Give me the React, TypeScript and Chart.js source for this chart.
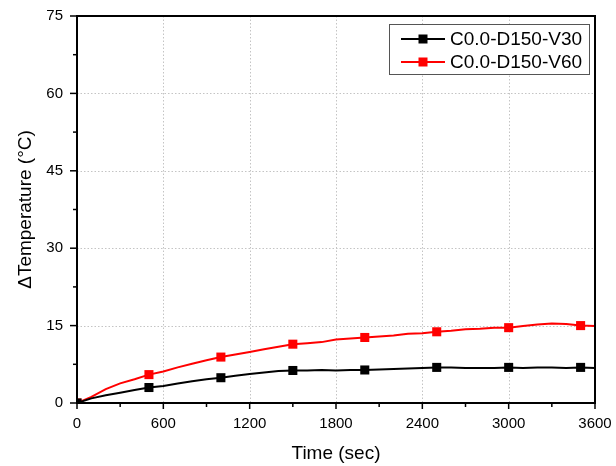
import React, { useEffect, useRef } from "react";
import { Chart, registerables } from "chart.js";

Chart.register(...registerables);

const times = [
  0, 100, 200, 300, 400, 500, 600, 700, 800, 900, 1000, 1100, 1200, 1300, 1400, 1500, 1600, 1700, 1800,
  1900, 2000, 2100, 2200, 2300, 2400, 2500, 2600, 2700, 2800, 2900, 3000, 3100, 3200, 3300, 3400, 3500, 3600,
];

const seriesV30 = [
  0, 0.9, 1.5, 2.0, 2.5, 3.0, 3.3, 3.8, 4.2, 4.6, 4.9, 5.3, 5.6, 5.9, 6.2, 6.3, 6.3, 6.4, 6.3,
  6.4, 6.4, 6.5, 6.6, 6.7, 6.8, 6.9, 6.9, 6.8, 6.8, 6.8, 6.9, 6.8, 6.9, 6.9, 6.8, 6.9, 6.8,
];

const seriesV60 = [
  0, 1.2, 2.7, 3.8, 4.6, 5.5, 6.1, 6.9, 7.6, 8.3, 8.9, 9.4, 9.9, 10.4, 10.9, 11.4, 11.6, 11.8, 12.3,
  12.5, 12.7, 12.9, 13.1, 13.4, 13.5, 13.8, 14.0, 14.3, 14.4, 14.6, 14.6, 14.9, 15.2, 15.4, 15.3, 15.0, 14.9,
];

const seriesLabels = ["C0.0-D150-V30", "C0.0-D150-V60"];
const seriesColors = ["#000000", "#ff0000"];
const markerTimes = [0, 500, 1000, 1500, 2000, 2500, 3000, 3500];

const xTitle = "Time (sec)";
const yTitle = "\u0394Temperature (\u00B0C)";
const xRange = [0, 3600];
const xStep = 600;
const yRange = [0, 75];
const yStep = 15;

const FONT = "'Liberation Sans', Arial, sans-serif";

const framePlugin = {
  id: "originFrame",
  beforeDatasetsDraw(chart: any) {
    const { ctx, chartArea: a, scales } = chart;
    const x = scales.x;
    const y = scales.y;
    ctx.save();
    ctx.strokeStyle = "#c4c4c4";
    ctx.lineWidth = 1;
    ctx.setLineDash([1.5, 2]);
    x.ticks.forEach((t: any) => {
      const px = Math.round(x.getPixelForValue(t.value)) + 0.5;
      ctx.beginPath();
      ctx.moveTo(px, a.top);
      ctx.lineTo(px, a.bottom);
      ctx.stroke();
    });
    y.ticks.forEach((t: any) => {
      const py = Math.round(y.getPixelForValue(t.value)) + 0.5;
      ctx.beginPath();
      ctx.moveTo(a.left, py);
      ctx.lineTo(a.right, py);
      ctx.stroke();
    });
    ctx.restore();
  },
  afterDatasetsDraw(chart: any) {
    const { ctx, chartArea: a, scales } = chart;
    const x = scales.x;
    const y = scales.y;
    ctx.save();
    ctx.setLineDash([]);
    ctx.strokeStyle = "#000";
    ctx.lineWidth = 1.5;
    const xt = x.ticks.map((t: any) => t.value);
    xt.forEach((v: number, i: number) => {
      const px = x.getPixelForValue(v);
      ctx.beginPath();
      ctx.moveTo(px, a.bottom);
      ctx.lineTo(px, a.bottom + 6);
      ctx.stroke();
      if (i < xt.length - 1) {
        const mx = x.getPixelForValue((v + xt[i + 1]) / 2);
        ctx.beginPath();
        ctx.moveTo(mx, a.bottom);
        ctx.lineTo(mx, a.bottom + 4);
        ctx.stroke();
      }
    });
    const yt = y.ticks.map((t: any) => t.value);
    yt.forEach((v: number, i: number) => {
      const py = y.getPixelForValue(v);
      ctx.beginPath();
      ctx.moveTo(a.left, py);
      ctx.lineTo(a.left - 7, py);
      ctx.stroke();
      if (i < yt.length - 1) {
        const my = y.getPixelForValue((v + yt[i + 1]) / 2);
        ctx.beginPath();
        ctx.moveTo(a.left, my);
        ctx.lineTo(a.left - 4, my);
        ctx.stroke();
      }
    });
    ctx.lineWidth = 2;
    ctx.strokeRect(a.left, a.top, a.right - a.left, a.bottom - a.top);

    // legend
    const bx = a.right - 206;
    const by = a.top + 8;
    const bw = 200;
    const bh = 50;
    ctx.fillStyle = "#fff";
    ctx.fillRect(bx, by, bw, bh);
    ctx.lineWidth = 1;
    ctx.strokeStyle = "#555";
    ctx.strokeRect(bx + 0.5, by + 0.5, bw, bh);
    chart.data.datasets.forEach((ds: any, i: number) => {
      const cy = by + 15 + i * 23;
      ctx.strokeStyle = ds.borderColor;
      ctx.fillStyle = ds.borderColor;
      ctx.lineWidth = 2;
      ctx.beginPath();
      ctx.moveTo(bx + 12, cy);
      ctx.lineTo(bx + 56, cy);
      ctx.stroke();
      ctx.fillRect(bx + 34 - 4.5, cy - 4.5, 9, 9);
      ctx.fillStyle = "#000";
      ctx.font = `19px ${FONT}`;
      ctx.textAlign = "left";
      ctx.textBaseline = "middle";
      ctx.fillText(ds.label, bx + 61, cy + 1);
    });
    ctx.restore();
  },
};

export default function App() {
  const ref = useRef<HTMLCanvasElement | null>(null);

  useEffect(() => {
    if (!ref.current) return;
    const series = [seriesV30, seriesV60];
    const chart = new Chart(ref.current, {
      type: "line",
      data: {
        datasets: series.map((vals, si) => ({
          label: seriesLabels[si],
          data: times.map((t, i) => ({ x: t, y: vals[i] })),
          borderColor: seriesColors[si],
          backgroundColor: seriesColors[si],
          borderWidth: 2,
          tension: 0,
          pointStyle: "rect",
          pointRadius: (c: any) => (markerTimes.includes(times[c.dataIndex]) ? 6.4 : 0),
          pointHoverRadius: (c: any) => (markerTimes.includes(times[c.dataIndex]) ? 6.4 : 0),
          pointBorderWidth: 0,
          fill: false,
        })),
      },
      options: {
        responsive: false,
        animation: false,
        events: [],
        layout: { padding: { left: 0, right: 21, top: 16, bottom: 0 } },
        plugins: {
          legend: { display: false },
          tooltip: { enabled: false },
        },
        scales: {
          x: {
            type: "linear",
            min: xRange[0],
            max: xRange[1],
            grid: { display: false, drawTicks: false },
            border: { display: false },
            ticks: {
              stepSize: xStep,
              padding: 12,
              maxRotation: 0,
              color: "#000",
              font: { family: FONT, size: 15 },
              callback: (v: any) => String(v),
            },
            title: {
              display: true,
              text: xTitle,
              color: "#000",
              font: { family: FONT, size: 19 },
              padding: { top: 0, bottom: 1 },
            },
            afterFit: (s: any) => {
              s.height = 63;
              s.paddingLeft = 0;
              s.paddingRight = 0;
            },
          },
          y: {
            type: "linear",
            min: yRange[0],
            max: yRange[1],
            grid: { display: false, drawTicks: false },
            border: { display: false },
            ticks: {
              stepSize: yStep,
              padding: 14,
              color: "#000",
              font: { family: FONT, size: 15 },
              callback: (v: any) => String(v),
            },
            title: {
              display: true,
              text: yTitle,
              color: "#000",
              font: { family: FONT, size: 19 },
              padding: { top: 14, bottom: 0 },
            },
            afterFit: (s: any) => {
              s.width = 77;
              s.paddingTop = 0;
              s.paddingBottom = 0;
            },
          },
        },
      },
      plugins: [framePlugin],
    } as any);
    return () => chart.destroy();
  }, []);

  return (
    <div style={{ position: "absolute", left: 0, top: 0, width: 616, height: 466, background: "#fff" }}>
      <canvas ref={ref} width={616} height={466} />
    </div>
  );
}
